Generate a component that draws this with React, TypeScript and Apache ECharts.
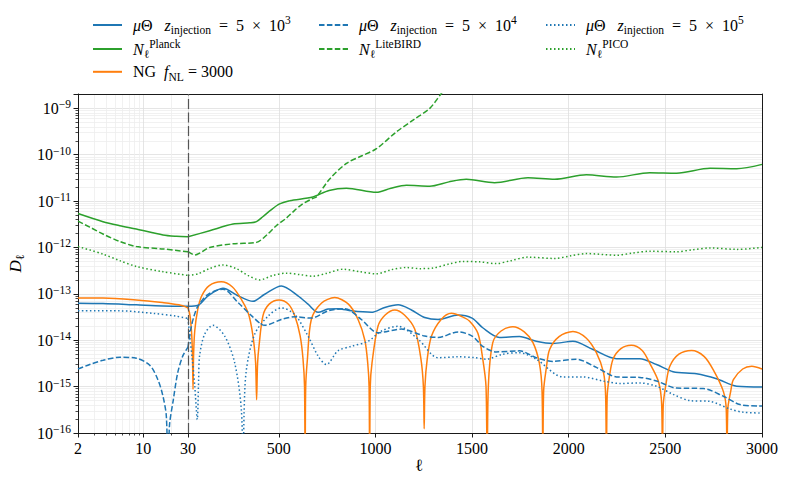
import React, { useEffect, useRef } from 'react';
import * as echarts from 'echarts';

// ---------------- data: [multipole ℓ, D_ℓ] ----------------
const MU_Z5E3: [number, number][] = [
  [2, 6.3e-14], [3.7, 6.2e-14], [8.4, 5.8e-14], [16, 5.5e-14], [30, 5.4e-14],
  [82, 5.7e-14], [134, 9.1e-14], [211, 1.32e-13], [289, 9.1e-14], [366, 6.9e-14],
  [427, 9.8e-14], [513, 1.48e-13], [599, 9.1e-14], [651, 6.0e-14], [703, 4.0e-14],
  [755, 4.7e-14], [806, 4.8e-14], [875, 4.3e-14], [979, 4.0e-14], [1048, 5.1e-14],
  [1117, 5.8e-14], [1186, 4.5e-14], [1255, 3.1e-14], [1324, 2.8e-14], [1428, 3.5e-14],
  [1500, 3.0e-14], [1555, 1.86e-14], [1642, 1.15e-14], [1745, 1.2e-14], [1832, 9.5e-15],
  [1918, 8.5e-15], [2022, 9.5e-15], [2126, 6.3e-15], [2247, 4.0e-15], [2368, 4.0e-15],
  [2454, 3.0e-15], [2540, 2.1e-15], [2661, 1.9e-15], [2765, 1.48e-15], [2869, 1.02e-15],
  [3000, 9.8e-16],
];

const MU_Z5E4: [number, number][] = [
  [2, 2.4e-15], [2.67, 3.0e-15], [3.7, 3.7e-15], [5.6, 4.3e-15], [8.4, 4.1e-15],
  [11.7, 2.9e-15], [14.3, 1.41e-15], [16.2, 6.2e-16], [17.6, 2.3e-16], [18.4, 1e-17],
  [19, 1.41e-16], [20.9, 5.2e-16], [23.3, 2.0e-15], [26.4, 4.6e-15], [30, 7.1e-15],
  [45, 1.78e-14], [60, 3.2e-14], [82, 5.5e-14], [134, 9.8e-14], [211, 1.26e-13],
  [289, 6.5e-14], [358, 3.4e-14], [427, 2.1e-14], [513, 2.8e-14], [582, 3.2e-14],
  [668, 3.0e-14], [755, 4.3e-14], [841, 4.8e-14], [927, 2.8e-14], [1013, 1.45e-14],
  [1134, 1.74e-14], [1255, 1.23e-14], [1324, 1.15e-14], [1428, 1.51e-14], [1500, 1.23e-14],
  [1555, 7.4e-15], [1624, 5.6e-15], [1745, 5.9e-15], [1832, 4.2e-15], [1918, 3.5e-15],
  [2039, 3.9e-15], [2143, 2.6e-15], [2247, 1.62e-15], [2368, 1.58e-15], [2454, 1.32e-15],
  [2557, 9.3e-16], [2696, 9.1e-16], [2800, 6.2e-16], [2886, 4.1e-16], [3000, 3.8e-16],
];

const MU_Z5E5: [number, number][] = [
  [2, 4.3e-14], [5.6, 4.3e-14], [12.7, 3.8e-14], [22.6, 3.3e-14], [30, 2.95e-14],
  [39, 1.23e-14], [52, 4.0e-15], [65, 1.02e-15], [78, 1.95e-16], [85, 1.41e-15],
  [90, 4.6e-15], [116, 1.35e-14], [159, 2.1e-14], [220, 1.23e-14], [272, 3.2e-15],
  [306, 3.2e-16], [315, 1e-17], [320, 2.5e-16], [332, 2.3e-15], [375, 1.35e-14],
  [444, 3.3e-14], [513, 5.0e-14], [582, 3.6e-14], [651, 1.23e-14], [703, 4.6e-15],
  [746, 3.0e-15], [806, 5.9e-15], [875, 7.4e-15], [962, 9.5e-15], [1031, 1.58e-14],
  [1117, 2.0e-14], [1221, 1.05e-14], [1324, 4.2e-15], [1428, 4.4e-15], [1514, 4.2e-15],
  [1573, 3.9e-15], [1659, 5.0e-15], [1745, 5.4e-15], [1832, 3.9e-15], [1970, 1.62e-15],
  [2074, 1.62e-15], [2177, 1.32e-15], [2264, 1.17e-15], [2368, 1.2e-15], [2454, 1.02e-15],
  [2540, 6.8e-16], [2627, 5.0e-16], [2731, 4.8e-16], [2834, 3.3e-16], [2903, 2.8e-16],
  [3000, 2.7e-16],
];

const N_PLANCK: [number, number][] = [
  [2, 5.4e-12], [3.7, 3.6e-12], [5.6, 2.95e-12], [8.4, 2.5e-12], [16.2, 1.86e-12],
  [22.6, 1.74e-12], [30, 1.7e-12], [142, 2.3e-12], [263, 3.2e-12], [350, 3.4e-12],
  [384, 3.6e-12], [417, 4.6e-12], [460, 6.5e-12], [504, 8.7e-12], [556, 1.02e-11],
  [676, 1.23e-11], [760, 1.7e-11], [850, 1.9e-11], [1005, 1.55e-11], [1080, 1.9e-11],
  [1160, 2.2e-11], [1281, 2.1e-11], [1380, 2.6e-11], [1470, 2.95e-11], [1616, 2.5e-11],
  [1789, 3.2e-11], [1927, 2.95e-11], [2091, 3.7e-11], [2247, 3.3e-11], [2419, 4.1e-11],
  [2558, 4.0e-11], [2731, 5.1e-11], [2869, 5.0e-11], [3000, 6.2e-11],
];

const N_LITEBIRD: [number, number][] = [
  [2, 3.7e-12], [2.67, 2.75e-12], [3.7, 1.95e-12], [5.6, 1.35e-12], [8.4, 1.05e-12],
  [16.2, 9.3e-13], [30, 8.1e-13], [65, 6.9e-13], [142, 1.0e-12], [263, 1.2e-12],
  [384, 1.29e-12], [440, 1.9e-12], [487, 2.95e-12], [539, 4.3e-12], [572, 5.8e-12],
  [620, 8.5e-12], [677, 1.15e-11], [694, 1.23e-11], [763, 3.0e-11], [850, 6.5e-11],
  [930, 9.5e-11], [1005, 1.35e-10], [1108, 3.1e-10], [1200, 5.8e-10], [1281, 1.0e-9],
  [1349, 2.3e-9], [1420, 4.5e-9],
];

const N_PICO: [number, number][] = [
  [2, 1.05e-12], [3.7, 7.2e-13], [5.6, 5.2e-13], [8.4, 3.9e-13], [16.2, 3.0e-13],
  [30, 2.5e-13], [82, 2.7e-13], [140, 3.5e-13], [210, 4.2e-13], [280, 3.5e-13],
  [340, 2.5e-13], [401, 2.0e-13], [470, 2.5e-13], [539, 2.8e-13], [608, 2.6e-13],
  [677, 2.4e-13], [750, 2.8e-13], [832, 3.4e-13], [920, 3.0e-13], [1005, 2.7e-13],
  [1080, 3.3e-13], [1160, 3.7e-13], [1230, 3.5e-13], [1298, 3.6e-13], [1380, 4.4e-13],
  [1453, 5.0e-13], [1539, 4.9e-13], [1624, 4.5e-13], [1700, 5.2e-13], [1789, 6.2e-13],
  [1927, 5.8e-13], [2010, 6.6e-13], [2091, 7.4e-13], [2247, 6.8e-13], [2330, 7.6e-13],
  [2419, 8.3e-13], [2558, 8.1e-13], [2640, 8.9e-13], [2731, 9.8e-13], [2869, 9.1e-13],
  [3000, 1.0e-12],
];

const NG_FNL3000: [number, number][] = [
  [2, 8.1e-14], [3.7, 8.1e-14], [8.4, 7.4e-14], [16, 6.5e-14], [24, 5.8e-14], [30, 5.0e-14],
  [40, 3.5e-14], [48, 1.6e-14], [53, 5.0e-15], [56, 8.7e-16], [59, 5.0e-15], [65, 1.6e-14],
  [80, 4.5e-14], [100, 8.9e-14], [140, 1.51e-13], [202, 1.82e-13], [260, 1.41e-13],
  [306, 7.6e-14], [340, 4.0e-14], [358, 2.0e-14], [372, 7.9e-15], [380, 3.2e-15],
  [385, 5.2e-16], [390, 3.2e-15], [398, 7.9e-15], [418, 3.4e-14], [450, 6.0e-14],
  [501, 7.4e-14], [550, 6.0e-14], [582, 3.4e-14], [610, 1.26e-14], [625, 4.0e-15],
  [633, 1.0e-15], [636, 1e-17], [639, 1.0e-15], [648, 4.0e-15], [668, 2.8e-14],
  [720, 6.3e-14], [789, 8.3e-14], [860, 6.0e-14], [910, 2.8e-14], [945, 1.0e-14],
  [960, 3.2e-15], [967, 1.0e-15], [970, 1e-17], [973, 1.0e-15], [982, 3.2e-15],
  [1013, 2.0e-14], [1050, 3.5e-14], [1100, 4.5e-14], [1150, 3.5e-14], [1203, 1.74e-14],
  [1235, 4.0e-15], [1248, 1.0e-15], [1252, 1.23e-16], [1256, 1.0e-15], [1268, 4.0e-15],
  [1290, 1.23e-14], [1340, 2.8e-14], [1393, 3.8e-14], [1450, 3.2e-14], [1486, 2.6e-14],
  [1530, 1.41e-14], [1555, 4.0e-15], [1572, 1.0e-15], [1578, 1e-17], [1584, 1.0e-15],
  [1607, 8.9e-15], [1650, 1.58e-14], [1711, 1.95e-14], [1770, 1.51e-14], [1815, 8.9e-15],
  [1848, 3.2e-15], [1862, 7.9e-16], [1866, 1e-17], [1870, 7.9e-16], [1884, 2.5e-15],
  [1901, 6.3e-15], [1950, 1.2e-14], [2022, 1.55e-14], [2090, 1.12e-14], [2143, 5.4e-15],
  [2180, 2.0e-15], [2191, 6.3e-16], [2195, 1e-17], [2199, 6.3e-16], [2210, 1.58e-15],
  [2229, 3.9e-15], [2270, 6.6e-15], [2324, 7.8e-15], [2380, 6.0e-15], [2419, 3.2e-15],
  [2465, 1.26e-15], [2481, 4.0e-16], [2485, 1e-17], [2489, 4.0e-16], [2505, 1.26e-15],
  [2523, 2.75e-15], [2570, 5.0e-15], [2636, 6.0e-15], [2700, 4.5e-15], [2748, 2.3e-15],
  [2800, 7.9e-16], [2815, 3.2e-16], [2819, 1e-17], [2823, 3.2e-16], [2838, 7.9e-16],
  [2852, 1.41e-15], [2900, 2.4e-15], [2947, 2.75e-15], [3000, 2.4e-15],
];

// ---------------- axes ----------------
const ELL_MIN = 2;
const ELL_SWITCH = 30; // log scale below, linear scale above
const ELL_MAX = 3000;
const Y_MIN = 1e-16;
const Y_MAX = 2.04e-9;
const Y_SHIFT_EXP = 16; // plotted as D_ℓ × 10^16 so log-axis tick values stay representable

// ---------------- styles ----------------
const BLUE = '#1f77b4';
const ORANGE = '#ff7f0e';
const GREEN = '#2ca02c';
const AXIS = '#1a1a1a';
const GRID_MAJOR = '#dedede';
const GRID_MINOR = '#ededed';
const SERIF = "'Liberation Serif', 'DejaVu Serif', serif";
const SOLID = 'solid';
const DASHED = [5.5, 2.4];
const DOTTED = [1.5, 2.5];

const N_MU3 = 'μΘ z_injection = 5 × 10^3';
const N_MU4 = 'μΘ z_injection = 5 × 10^4';
const N_MU5 = 'μΘ z_injection = 5 × 10^5';
const N_PL = 'N_ℓ^Planck';
const N_LB = 'N_ℓ^LiteBIRD';
const N_PC = 'N_ℓ^PICO';
const N_NG = 'NG f_NL = 3000';

const SERIES_DEFS = [
  { name: N_MU3, data: MU_Z5E3, color: BLUE, dash: SOLID },
  { name: N_PL, data: N_PLANCK, color: GREEN, dash: SOLID },
  { name: N_NG, data: NG_FNL3000, color: ORANGE, dash: SOLID },
  { name: N_MU4, data: MU_Z5E4, color: BLUE, dash: DASHED },
  { name: N_LB, data: N_LITEBIRD, color: GREEN, dash: DASHED },
  { name: N_MU5, data: MU_Z5E5, color: BLUE, dash: DOTTED },
  { name: N_PC, data: N_PICO, color: GREEN, dash: DOTTED },
];

const MU_LABEL = (e: string) =>
  `{i|μ}{r|Θ   }{i|z}{sub|injection}{r|  =  5  ×  10}{sup|${e}}`;

const LEGEND_RICH_LABEL: Record<string, string> = {
  [N_MU3]: MU_LABEL('3'),
  [N_MU4]: MU_LABEL('4'),
  [N_MU5]: MU_LABEL('5'),
  [N_PL]: '{i|N}{ell|ℓ}{supN|Planck}',
  [N_LB]: '{i|N}{ell|ℓ}{supN|LiteBIRD}',
  [N_PC]: '{i|N}{ell|ℓ}{supN|PICO}',
  [N_NG]: '{r|NG  }{i|f}{sub|NL}{r| = 3000}',
};

const RICH = {
  r: { fontFamily: SERIF, fontSize: 16, lineHeight: 22, color: '#000' },
  i: { fontFamily: SERIF, fontSize: 16, fontStyle: 'italic', lineHeight: 22, color: '#000' },
  sub: { fontFamily: SERIF, fontSize: 11.5, lineHeight: 15, verticalAlign: 'bottom', color: '#000' },
  sup: { fontFamily: SERIF, fontSize: 11.5, lineHeight: 11, verticalAlign: 'top', color: '#000' },
  supN: { fontFamily: SERIF, fontSize: 11.5, lineHeight: 8, verticalAlign: 'top', color: '#000' },
  ell: { fontFamily: SERIF, fontSize: 11.5, lineHeight: 11, verticalAlign: 'bottom', color: '#000' },
};

export default function App() {
  const ref = useRef<HTMLDivElement>(null);

  useEffect(() => {
    if (!ref.current) return;
    const chart = echarts.init(ref.current, null, { renderer: 'svg' });
    const shift = Math.pow(10, Y_SHIFT_EXP);
    const scaled = (pts: [number, number][]) => pts.map(([l, d]) => [l, d * shift]);

    const series: any[] = [];
    SERIES_DEFS.forEach((s) => {
      const base = {
        type: 'line',
        name: s.name,
        symbol: 'none',
        showSymbol: false,
        smooth: 0.3,
        silent: true,
        clip: true,
        lineStyle: { color: s.color, width: 1.5, type: s.dash },
        itemStyle: { color: s.color },
        emphasis: { disabled: true },
      };
      series.push({
        ...base,
        xAxisIndex: 0,
        yAxisIndex: 0,
        data: scaled(s.data.filter((p) => p[0] <= ELL_SWITCH)),
      });
      const right: any = {
        ...base,
        xAxisIndex: 1,
        yAxisIndex: 1,
        data: scaled(s.data.filter((p) => p[0] >= ELL_SWITCH)),
      };
      if (s.name === N_NG) {
        right.markLine = {
          silent: true,
          symbol: ['none', 'none'],
          label: { show: false },
          lineStyle: { color: '#555', type: [10, 3.5], width: 1.2 },
          emphasis: { disabled: true },
          data: [{ xAxis: ELL_SWITCH }],
        };
      }
      series.push(right);
    });

    const tickLabel = { fontFamily: SERIF, fontSize: 16, color: '#000' };
    const yFormatter = (v: number) => {
      const e = Math.log10(v);
      const n = Math.round(e);
      if (Math.abs(e - n) > 1e-6) return '';
      const p = n - Y_SHIFT_EXP;
      return `{b|10}{s|${p < 0 ? '−' : ''}${Math.abs(p)}}`;
    };

    const legendLayout: [string, number, number][] = [
      [N_MU3, 92, 14], [N_PL, 92, 38], [N_NG, 92, 63],
      [N_MU4, 318, 14], [N_LB, 318, 38],
      [N_MU5, 545, 14], [N_PC, 545, 38],
    ];

    const option: any = {
      animation: false,
      backgroundColor: '#ffffff',
      textStyle: { fontFamily: SERIF },
      grid: [
        { left: 78, top: 94, width: 110, height: 339 },
        { left: 188, top: 94, width: 574, height: 339 },
      ],
      xAxis: [
        {
          type: 'log', gridIndex: 0, min: ELL_MIN, max: ELL_SWITCH, position: 'bottom',
          axisLine: { show: true, onZero: false, lineStyle: { color: AXIS, width: 1 } },
          axisTick: { show: true, length: 4.5, lineStyle: { color: AXIS, width: 1 } },
          minorTick: { show: true, splitNumber: 9, length: 2.5, lineStyle: { color: AXIS, width: 0.8 } },
          axisLabel: { ...tickLabel, margin: 7, formatter: (v: number) => String(Math.round(v)) },
          splitLine: { show: true, lineStyle: { color: GRID_MAJOR, width: 0.8 } },
          minorSplitLine: { show: true, lineStyle: { color: GRID_MINOR, width: 0.8 } },
        },
        {
          type: 'value', gridIndex: 1, min: ELL_SWITCH, max: ELL_MAX, position: 'bottom',
          axisLine: { show: true, onZero: false, lineStyle: { color: AXIS, width: 1 } },
          axisTick: { show: true, length: 4.5, lineStyle: { color: AXIS, width: 1 } },
          axisLabel: { ...tickLabel, margin: 7, showMinLabel: false, formatter: (v: number) => String(Math.round(v)) },
          splitLine: { show: true, lineStyle: { color: GRID_MAJOR, width: 0.8 } },
        },
        {
          type: 'log', gridIndex: 0, min: ELL_MIN, max: ELL_SWITCH, position: 'top',
          axisLine: { show: true, onZero: false, lineStyle: { color: AXIS, width: 1 } },
          axisTick: { show: false }, axisLabel: { show: false }, splitLine: { show: false },
        },
        {
          type: 'value', gridIndex: 1, min: ELL_SWITCH, max: ELL_MAX, position: 'top',
          axisLine: { show: true, onZero: false, lineStyle: { color: AXIS, width: 1 } },
          axisTick: { show: false }, axisLabel: { show: false }, splitLine: { show: false },
        },
      ],
      yAxis: [
        {
          type: 'log', gridIndex: 0, min: Y_MIN * shift, max: Y_MAX * shift, position: 'left',
          name: '{i|D}{s|ℓ}',
          nameLocation: 'middle',
          nameRotate: 90,
          nameGap: 52,
          nameTextStyle: {
            rich: {
              i: { fontFamily: SERIF, fontSize: 17, fontStyle: 'italic', lineHeight: 22, color: '#000' },
              s: { fontFamily: SERIF, fontSize: 12, lineHeight: 15, verticalAlign: 'bottom', color: '#000' },
            },
          },
          axisLine: { show: true, onZero: false, lineStyle: { color: AXIS, width: 1 } },
          axisTick: { show: true, length: 4.5, lineStyle: { color: AXIS, width: 1 } },
          minorTick: { show: true, splitNumber: 9, length: 2.5, lineStyle: { color: AXIS, width: 0.8 } },
          axisLabel: {
            margin: 7,
            formatter: yFormatter,
            rich: {
              b: { fontFamily: SERIF, fontSize: 16, lineHeight: 20, color: '#000' },
              s: { fontFamily: SERIF, fontSize: 11.5, lineHeight: 10, verticalAlign: 'top', color: '#000' },
            },
          },
          splitLine: { show: true, lineStyle: { color: GRID_MAJOR, width: 0.8 } },
          minorSplitLine: { show: true, lineStyle: { color: GRID_MINOR, width: 0.8 } },
        },
        {
          type: 'log', gridIndex: 1, min: Y_MIN * shift, max: Y_MAX * shift, position: 'right',
          axisLine: { show: true, onZero: false, lineStyle: { color: AXIS, width: 1 } },
          axisTick: { show: false },
          minorTick: { show: false, splitNumber: 9 },
          axisLabel: { show: false },
          splitLine: { show: true, lineStyle: { color: GRID_MAJOR, width: 0.8 } },
          minorSplitLine: { show: true, lineStyle: { color: GRID_MINOR, width: 0.8 } },
        },
      ],
      legend: legendLayout.map(([name, left, top]) => ({
        data: [name],
        left,
        top,
        padding: 0,
        orient: 'horizontal',
        itemWidth: 29,
        itemHeight: 22,
        selectedMode: false,
        itemStyle: { color: 'rgba(0,0,0,0)', borderWidth: 0, opacity: 0 },
        formatter: (n: string) => LEGEND_RICH_LABEL[n],
        textStyle: { rich: RICH, padding: [0, 0, 0, 6] },
      })),
      graphic: [
        {
          type: 'text',
          left: 415,
          top: 457,
          silent: true,
          style: { text: 'ℓ', fontFamily: SERIF, fontSize: 17, fill: '#000' },
        },
      ],
      series,
    };

    chart.setOption(option);
    return () => chart.dispose();
  }, []);

  return (
    <div
      ref={ref}
      style={{ position: 'absolute', left: 0, top: 0, width: 789, height: 489, background: '#fff' }}
    />
  );
}
